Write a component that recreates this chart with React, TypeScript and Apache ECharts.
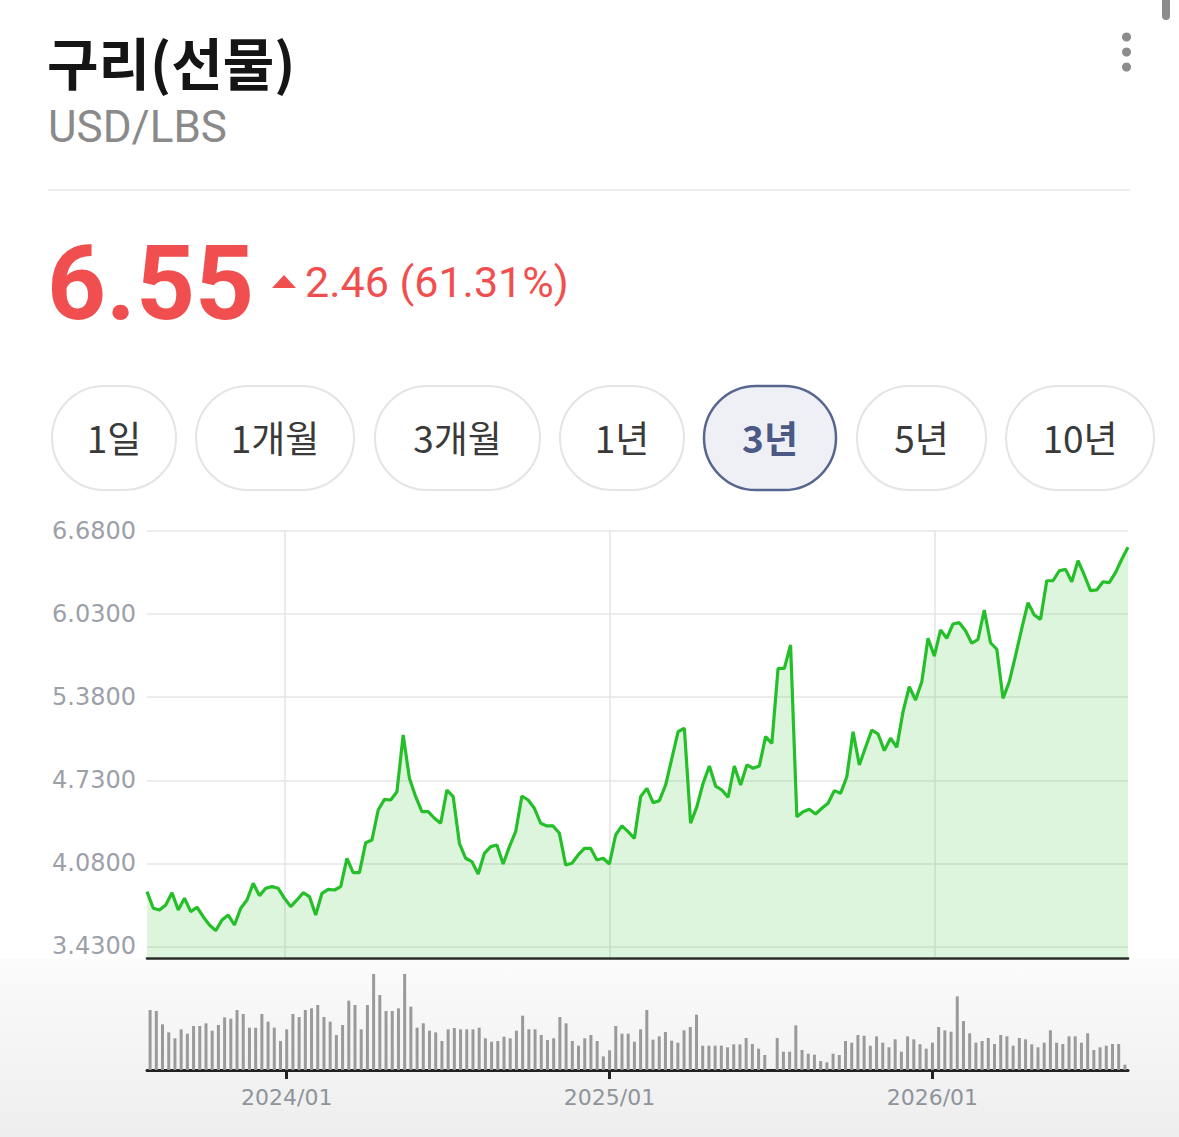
import React, { useEffect, useRef } from 'react';
import * as echarts from 'echarts';

// ---------- data ----------
const TITLE = '구리(선물)';
const UNIT = 'USD/LBS';
const LAST_PRICE = '6.55';
const CHANGE_TEXT = '2.46 (61.31%)';
const RANGE_BUTTONS = ['1일', '1개월', '3개월', '1년', '3년', '5년', '10년'];
const SELECTED_RANGE = '3년';
const START_DATE = '2023-08-04';
const Y_TICKS = [3.43, 4.08, 4.73, 5.38, 6.03, 6.68];

const PRICES = [
  3.859, 3.729, 3.716, 3.755, 3.851, 3.716, 3.807, 3.703, 3.737, 3.663,
  3.598, 3.554, 3.637, 3.676, 3.598, 3.729, 3.794, 3.924, 3.828, 3.885,
  3.898, 3.885, 3.807, 3.742, 3.794, 3.851, 3.820, 3.676, 3.846, 3.877,
  3.872, 3.898, 4.120, 4.008, 4.008, 4.242, 4.263, 4.498, 4.581, 4.576,
  4.641, 5.084, 4.746, 4.602, 4.485, 4.485, 4.433, 4.394, 4.654, 4.602,
  4.237, 4.120, 4.094, 3.997,
  4.159, 4.211, 4.224, 4.075, 4.211, 4.328, 4.607, 4.576, 4.511, 4.394,
  4.373, 4.373, 4.316, 4.068, 4.081, 4.146, 4.198, 4.198, 4.107, 4.120,
  4.075, 4.302, 4.373, 4.328, 4.276, 4.602, 4.667, 4.555, 4.571, 4.693,
  4.902, 5.110, 5.137, 4.394, 4.524, 4.707, 4.842, 4.685, 4.654, 4.597,
  4.842, 4.693, 4.850, 4.824, 4.842, 5.071, 5.019, 5.606, 5.606, 5.788,
  4.445, 4.484, 4.503,
  4.466, 4.511, 4.550, 4.649, 4.628, 4.758, 5.110, 4.850, 4.988, 5.123,
  5.092, 4.962, 5.059, 4.988, 5.267, 5.462, 5.358, 5.501, 5.841, 5.702,
  5.906, 5.841, 5.953, 5.963, 5.900, 5.802, 5.833, 6.062, 5.806, 5.755,
  5.371, 5.501, 5.705, 5.919, 6.119, 6.023, 5.989, 6.291, 6.291, 6.369,
  6.380, 6.283, 6.448, 6.336, 6.213, 6.219, 6.283, 6.276, 6.354, 6.459,
  6.553,
];

const VOLUMES = [
  180, 177, 137, 113, 95, 122, 109, 132, 132, 140,
  118, 135, 158, 154, 180, 168, 127, 127, 168, 145,
  127, 87, 122, 168, 159, 180, 185, 195, 159, 145,
  105, 135, 208, 195, 122, 195, 288, 225, 177, 177,
  185, 288, 190, 127, 140, 118, 113, 87, 122, 126,
  122, 122, 122, 127, 95, 85, 87, 100, 95, 118,
  163, 122, 122, 105, 90, 95, 159, 140, 87, 73,
  95, 105, 87, 41, 59, 132, 109, 109, 85, 122,
  180,
  91, 101, 114, 88, 82, 119, 129, 166, 73, 73,
  73, 73, 68, 77, 77, 96, 78, 64, 45, 0,
  96, 55, 55, 134, 60, 49, 46, 27, 23, 49,
  45, 87, 82, 105, 103, 73, 101, 82, 68, 92,
  55, 101, 92, 77, 64, 82, 129, 119, 115, 221,
  147, 110, 82, 87, 96, 78, 105, 101, 73, 96,
  92, 77, 68, 82, 119, 82, 78, 101, 101, 82,
  110, 60, 68, 73, 78, 78, 16,
];

// ---------- layout / style ----------
const W = 1179;
const H = 1137;
const RED = '#f14f4f';
const BUTTON_BOXES: [number, number][] = [
  [52, 124], [196, 158], [375, 165], [560, 124], [704, 132], [857, 129], [1006, 148],
];
const BTN_TOP = 386;
const BTN_H = 104;
const VOL_AXIS_MAX = 312;

function buildDates(start: string, n: number): string[] {
  const t0 = Date.parse(start + 'T00:00:00Z');
  const out: string[] = [];
  for (let i = 0; i < n; i++) {
    out.push(new Date(t0 + i * 7 * 86400000).toISOString().slice(0, 10));
  }
  return out;
}

const isYearStart = (d: string) => d.slice(5, 7) === '01' && Number(d.slice(8, 10)) <= 7;
const fmtYM = (d: string) => d.slice(0, 4) + '/' + d.slice(5, 7);

export default function App() {
  const ref = useRef<HTMLDivElement>(null);

  useEffect(() => {
    if (!ref.current) return;
    const chart = echarts.init(ref.current, undefined, { renderer: 'svg', width: W, height: H });
    const dates = buildDates(START_DATE, PRICES.length);

    const buttons: any[] = [];
    RANGE_BUTTONS.forEach((label, i) => {
      const [bx, bw] = BUTTON_BOXES[i];
      const sel = label === SELECTED_RANGE;
      buttons.push({
        type: 'rect',
        shape: { x: bx, y: BTN_TOP, width: bw, height: BTN_H, r: BTN_H / 2 },
        style: {
          fill: sel ? '#eef0f6' : '#ffffff',
          stroke: sel ? '#56668f' : '#e4e4e4',
          lineWidth: sel ? 2.5 : 2,
        },
        silent: true,
      });
      buttons.push({
        type: 'text',
        x: bx + bw / 2,
        y: BTN_TOP + BTN_H / 2 - 1,
        style: {
          text: label,
          fill: sel ? '#4b5a85' : '#3a3a3a',
          fontSize: 37,
          fontWeight: sel ? 'bold' : 'normal',
          fontFamily: '"Noto Sans CJK KR"',
          textAlign: 'center',
          textVerticalAlign: 'middle',
        },
        silent: true,
      });
    });

    const option: any = {
      animation: false,
      backgroundColor: '#ffffff',
      grid: [
        { left: 147, right: 51, top: 531, bottom: 179 },
        { left: 147, right: 51, top: 966, bottom: 67 },
      ],
      xAxis: [
        {
          type: 'category',
          gridIndex: 0,
          data: dates,
          boundaryGap: false,
          axisLine: { show: true, onZero: false, lineStyle: { color: '#2a2a2a', width: 2.6 } },
          axisTick: { show: false },
          axisLabel: { show: false },
          splitLine: {
            show: true,
            interval: (_i: number, v: string) => isYearStart(v),
            lineStyle: { color: '#e4e4e4', width: 1.5 },
          },
        },
        {
          type: 'category',
          gridIndex: 1,
          data: dates,
          boundaryGap: true,
          axisLine: { show: true, lineStyle: { color: '#222222', width: 3 } },
          axisTick: {
            show: true,
            alignWithLabel: true,
            interval: (_i: number, v: string) => isYearStart(v),
            length: 9,
            lineStyle: { color: '#222222', width: 3 },
          },
          axisLabel: {
            show: true,
            interval: (_i: number, v: string) => isYearStart(v),
            formatter: (v: string) => fmtYM(v),
            color: '#8f949b',
            fontSize: 22,
            fontFamily: '"DejaVu Sans"',
            margin: 16,
          },
          splitLine: { show: false },
        },
      ],
      yAxis: [
        {
          type: 'value',
          gridIndex: 0,
          min: 3.34,
          max: 6.68,
          axisLine: { show: false },
          axisTick: { show: false, customValues: Y_TICKS },
          axisLabel: {
            show: true,
            customValues: Y_TICKS,
            formatter: (v: number) => v.toFixed(4),
            color: '#9ca1a9',
            fontSize: 24,
            fontFamily: '"DejaVu Sans"',
            margin: 11,
          },
          splitLine: { show: true, lineStyle: { color: '#e6e6e6', width: 1.5 } },
        },
        { type: 'value', gridIndex: 1, min: 0, max: VOL_AXIS_MAX, show: false },
      ],
      series: [
        {
          type: 'line',
          xAxisIndex: 0,
          yAxisIndex: 0,
          data: PRICES,
          symbol: 'none',
          lineStyle: { color: '#24bf29', width: 3.2 },
          areaStyle: { color: 'rgba(40,190,40,0.23)', origin: 'start' },
        },
        {
          type: 'bar',
          xAxisIndex: 1,
          yAxisIndex: 1,
          data: VOLUMES,
          barWidth: 3,
          itemStyle: { color: '#9a9a9a' },
        },
      ],
      graphic: [
        {
          type: 'rect',
          z: -10,
          silent: true,
          shape: { x: 0, y: 959, width: W, height: H - 959 },
          style: {
            fill: new echarts.graphic.LinearGradient(0, 0, 0, 1, [
              { offset: 0, color: '#fbfbfb' },
              { offset: 1, color: '#eeeeee' },
            ]),
          },
        },
        {
          type: 'text',
          x: 47,
          y: 60,
          silent: true,
          style: {
            text: TITLE,
            fill: '#151515',
            fontSize: 56,
            fontWeight: 'bold',
            fontFamily: '"Noto Sans CJK KR"',
            textVerticalAlign: 'middle',
          },
        },
        {
          type: 'text',
          x: 48,
          y: 127,
          silent: true,
          style: {
            text: UNIT,
            fill: '#8a8a8a',
            fontSize: 44,
            fontFamily: 'Roboto',
            textVerticalAlign: 'middle',
          },
        },
        {
          type: 'line',
          silent: true,
          shape: { x1: 48, y1: 190, x2: 1130, y2: 190 },
          style: { stroke: '#ececec', lineWidth: 2 },
        },
        {
          type: 'text',
          x: 47,
          y: 283,
          silent: true,
          style: {
            text: LAST_PRICE,
            fill: RED,
            fontSize: 103,
            fontWeight: 'bold',
            fontFamily: 'Roboto',
            textVerticalAlign: 'middle',
          },
        },
        {
          type: 'polygon',
          silent: true,
          shape: { points: [[272, 288], [296, 288], [284, 275]] },
          style: { fill: RED },
        },
        {
          type: 'text',
          x: 305,
          y: 282,
          silent: true,
          style: {
            text: CHANGE_TEXT,
            fill: RED,
            fontSize: 43,
            fontFamily: 'Roboto',
            textVerticalAlign: 'middle',
          },
        },
        ...buttons,
        { type: 'circle', silent: true, shape: { cx: 1126.5, cy: 37, r: 4.5 }, style: { fill: '#8c8c8c' } },
        { type: 'circle', silent: true, shape: { cx: 1126.5, cy: 52, r: 4.5 }, style: { fill: '#8c8c8c' } },
        { type: 'circle', silent: true, shape: { cx: 1126.5, cy: 67, r: 4.5 }, style: { fill: '#8c8c8c' } },
        {
          type: 'rect',
          silent: true,
          shape: { x: 1162, y: -10, width: 8, height: 30, r: 4 },
          style: { fill: '#8c8c8c' },
        },
      ],
    };

    chart.setOption(option);
    return () => chart.dispose();
  }, []);

  return (
    <div
      ref={ref}
      style={{ position: 'absolute', left: 0, top: 0, width: W, height: H, background: '#fff' }}
    />
  );
}
